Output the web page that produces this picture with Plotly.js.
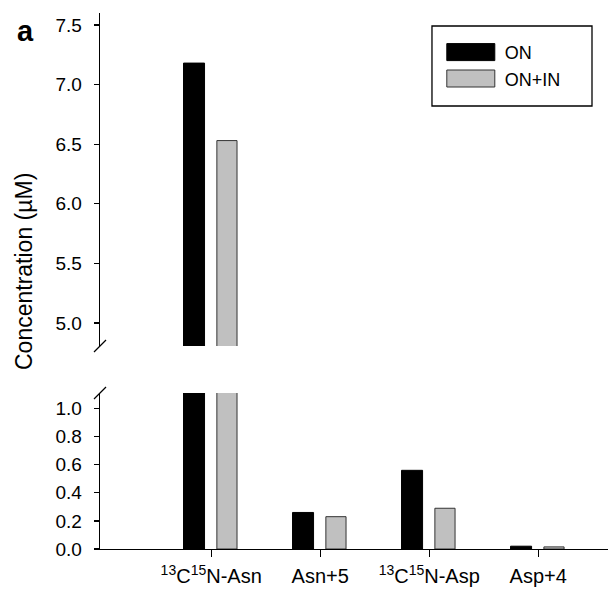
<!DOCTYPE html>
<html>
<head>
<meta charset="utf-8">
<script src="https://cdn.plot.ly/plotly-3.0.1.min.js"></script>
<style>body{margin:0;background:#fff}</style>
</head>
<body>
<div id="chart" style="width:609px;height:592px"></div>
<script>
var categories = ["<sup>13</sup>C<sup>15</sup>N-Asn", "Asn+5", "<sup>13</sup>C<sup>15</sup>N-Asp", "Asp+4"];
var onValues = [7.18, 0.26, 0.56, 0.02];
var onInValues = [6.53, 0.23, 0.29, 0.015];
var seriesNames = ["ON", "ON+IN"];

var FONT = "Liberation Sans, Arial, sans-serif";

function bar(name, y, color, lineColor, offset, width, ya, showlegend) {
  return {
    type: "bar", name: name, x: categories, y: y,
    xaxis: "x", yaxis: ya, showlegend: showlegend, legendgroup: name,
    offset: offset, width: width,
    marker: {color: color, line: {color: lineColor, width: 1}},
    hoverinfo: "skip"
  };
}

var traces = [
  bar(seriesNames[0], onValues, "#000000", "#000000", -0.254, 0.193, "y", true),
  bar(seriesNames[1], onInValues, "#c0c0c0", "#333333", 0.052, 0.185, "y", true),
  bar(seriesNames[0], onValues, "#000000", "#000000", -0.254, 0.193, "y2", false),
  bar(seriesNames[1], onInValues, "#c0c0c0", "#333333", 0.052, 0.185, "y2", false)
];

var tickFont = {family: FONT, size: 19, color: "#000"};
var botTop = 0.291, topBot = 0.3787;
var sx = 6 / 508, sy = 6 / 536;

var layout = {
  width: 609, height: 592,
  margin: {l: 100, r: 1, t: 13, b: 43},
  paper_bgcolor: "#fff", plot_bgcolor: "#fff",
  barmode: "group",
  showlegend: true,
  font: {family: FONT, color: "#000"},
  xaxis: {
    type: "category", domain: [0, 1], range: [-1.02, 3.64], anchor: "y",
    showline: true, linecolor: "#000", linewidth: 1.3,
    ticks: "outside", ticklen: 7, tickcolor: "#000", tickwidth: 1.3,
    ticklabelstandoff: 2,
    showgrid: false, zeroline: false, tickfont: {family: FONT, size: 20, color: "#000"}
  },
  yaxis: {
    domain: [0, botTop], range: [0, 1.11], tick0: 0, dtick: 0.2, tickformat: ".1f",
    anchor: "x",
    showline: true, linecolor: "#000", linewidth: 1.3,
    ticks: "outside", ticklen: 5, tickcolor: "#000", tickwidth: 1.3,
    ticklabelstandoff: 8,
    showgrid: false, zeroline: false, tickfont: tickFont
  },
  yaxis2: {
    domain: [topBot, 1], range: [4.807, 7.6], tick0: 5, dtick: 0.5, tickformat: ".1f",
    anchor: "x",
    showline: true, linecolor: "#000", linewidth: 1.3,
    ticks: "outside", ticklen: 5, tickcolor: "#000", tickwidth: 1.3,
    ticklabelstandoff: 8,
    showgrid: false, zeroline: false, tickfont: tickFont
  },
  legend: {
    x: 0.663, xanchor: "left", y: 0.961, yanchor: "top",
    bgcolor: "rgba(0,0,0,0)", borderwidth: 0,
    itemwidth: 58, font: {family: FONT, size: 18, color: "#000"},
    traceorder: "normal"
  },
  shapes: [
    {type: "rect", xref: "paper", yref: "paper", x0: 0.6535, x1: 0.9685, y0: 0.8265, y1: 0.9757,
     line: {color: "#000", width: 1.3}, fillcolor: "rgba(0,0,0,0)"},
    {type: "line", xref: "paper", yref: "paper", x0: -sx, x1: sx, y0: topBot - sy, y1: topBot + sy,
     line: {color: "#000", width: 1.3}},
    {type: "line", xref: "paper", yref: "paper", x0: -sx, x1: sx, y0: botTop - sy, y1: botTop + sy,
     line: {color: "#000", width: 1.3}}
  ],
  annotations: [
    {text: "Concentration (µM)", xref: "paper", yref: "paper", x: -76 / 508, y: (549 - 272) / 536,
     textangle: -90, showarrow: false, font: {family: FONT, size: 23, color: "#000"},
     xanchor: "center", yanchor: "middle"},
    {text: "<b>a</b>", xref: "paper", yref: "paper", x: -75 / 508, y: (549 - 31) / 536,
     showarrow: false, font: {family: FONT, size: 29, color: "#000"},
     xanchor: "center", yanchor: "middle"}
  ]
};

Plotly.newPlot("chart", traces, layout, {displayModeBar: false, staticPlot: true}).then(function () {
  document.querySelectorAll("#chart .legend .legendpoints path").forEach(function (p) {
    p.setAttribute("d", "M24,8.5H-24V-8.5H24Z");
  });
});
</script>
</body>
</html>
